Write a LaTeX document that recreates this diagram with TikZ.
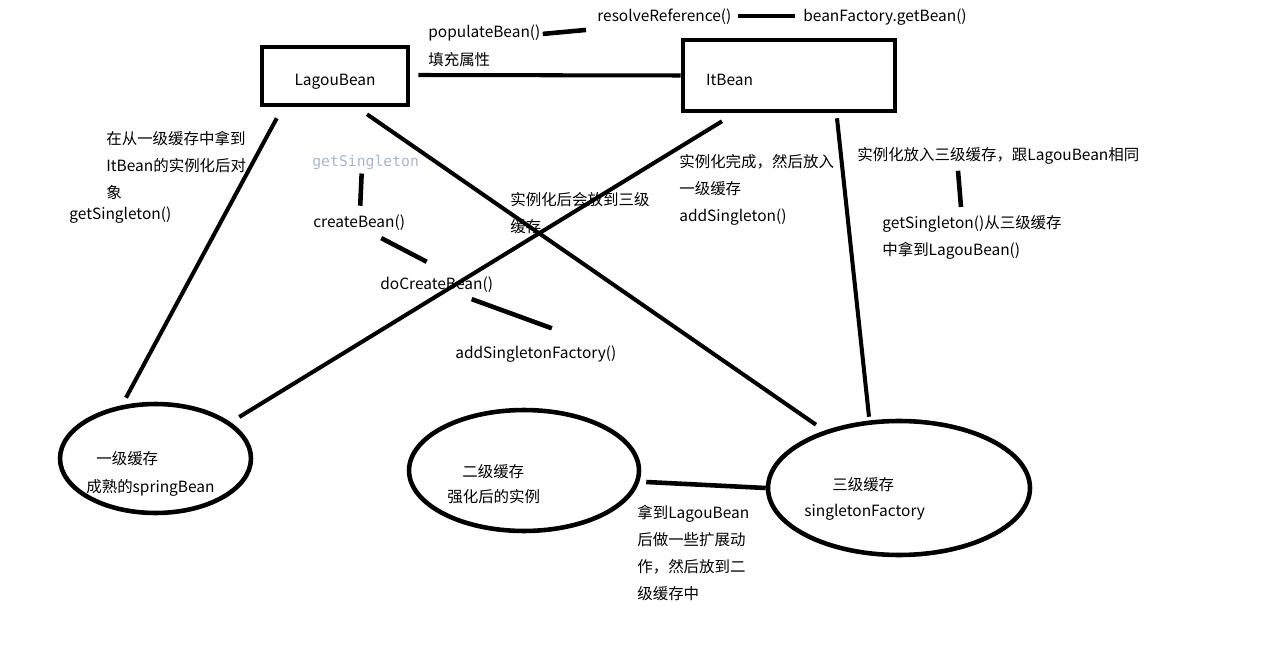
\documentclass[tikz,border=0pt]{standalone}
\usepackage{fontspec}
\setmainfont{Noto Sans CJK SC}
\newfontfamily\codefont{DejaVu Sans Mono}
\usepackage{xcolor}
\usepackage{tikz}
\usetikzlibrary{shapes.geometric, positioning, calc}
\definecolor{codegray}{RGB}{170,183,200}

\begin{document}
\begin{tikzpicture}[x=0.02cm, y=-0.02cm,
    every node/.style={font=\fontsize{8.8}{15.3}\selectfont, inner sep=0},
    beanbox/.style={draw, line width=2.6pt, rectangle, text height=13pt, text depth=1.7pt},
    cache/.style={draw, line width=2.6pt, ellipse},
    conn/.style={line width=2.3pt},
    short/.style={line width=2.6pt},
    txt/.style={anchor=west, yshift=-1.1pt},
    block/.style={anchor=north west, align=left}]
    \useasboundingbox[fill=white] (0,0) rectangle (1274,648);

    % Beans
    \node[beanbox, minimum width=2.92cm, minimum height=1.16cm] (lagou) at (335,76) {LagouBean};
    \node[beanbox, minimum height=1.42cm, text width=3.32cm, inner xsep=0.46cm, align=left] (itbean) at (789,75.5) {ItBean};

    % Caches
    \node[cache, minimum width=3.82cm, minimum height=2.18cm] (cacheone) at (155.5,458.5) {};
    \node[cache, minimum width=4.6cm, minimum height=2.42cm] (cachetwo) at (524,470.5) {};
    \node[cache, minimum width=5.24cm, minimum height=2.68cm] (cachethree) at (899,488) {};

    \node[txt] (onename) at (96,457) {一级缓存};
    \node[txt] (onedesc) at (86,486) {成熟的springBean};
    \node[txt] (twoname) at (462,470) {二级缓存};
    \node[txt] (twodesc) at (447,495) {强化后的实例};
    \node[txt] (threename) at (832,483) {三级缓存};
    \node[txt] (threedesc) at (804,510) {singletonFactory};

    % populate chain
    \node[txt] (populate) at (428,31) {populateBean()};
    \node[txt] (fill) at (428,58) {填充属性};
    \node[txt] (resolve) at (597,15) {resolveReference()};
    \node[txt] (getbean) at (803,15) {beanFactory.getBean()};

    % create chain
    \node[txt, font=\codefont\fontsize{8.4}{10}\selectfont, text=codegray] (gsgray) at (312,161) {getSingleton};
    \node[txt] (create) at (313,221) {createBean()};
    \node[txt] (docreate) at (380,283) {doCreateBean()};
    \node[txt] (addsf) at (455,352) {addSingletonFactory()};

    % notes
    \node[block] (fromone) at (106,131) {在从一级缓存中拿到\\ItBean的实例化后对\\象};
    \node[txt] (getsingle) at (69,213) {getSingleton()};
    \node[block] (tothree) at (510,192) {实例化后会放到三级\\缓存};
    \node[block] (toone) at (679,154) {实例化完成，然后放入\\一级缓存\\addSingleton()};
    \node[txt] (thirdput) at (857,154) {实例化放入三级缓存，跟LagouBean相同};
    \node[block] (getthird) at (882,215) {getSingleton()从三级缓存\\中拿到LagouBean()};
    \node[block] (expand) at (637,505) {拿到LagouBean\\后做一些扩展动\\作，然后放到二\\级缓存中};

    % Connectors
    \draw[conn] ($(lagou.east)+(8,-1)$) -- (itbean.west);
    \draw[conn] ($(lagou.south west)+(17,11)$) -- ($(cacheone.north)+(-29.5,-4)$);
    \draw[conn] ($(lagou.south)+(32,7)$) -- ($(cachethree.north)+(-83,6)$);
    \draw[conn] ($(itbean.south)+(-67,8)$) -- ($(cacheone.east)+(-14,-41.5)$);
    \draw[conn] ($(itbean.south)+(48,5)$) -- ($(cachethree.north)+(-30,-2)$);
    \draw[short] ($(cachetwo.east)+(5,11.5)$) -- (cachethree.west);

    \draw[short] ($(populate.east)+(2,1)$) -- ($(resolve.west)+(-11,13)$);
    \draw[short] ($(resolve.east)+(6,-1)$) -- ($(getbean.west)+(-8,-1)$);
    \draw[short] ($(gsgray.south)+(-4,3)$) -- ($(create.north)+(1,-9)$);
    \draw[short] ($(create.south)+(22,7)$) -- ($(docreate.north)+(-10,-15)$);
    \draw[short] ($(docreate.south)+(35,6)$) -- ($(addsf.north)+(16,-17)$);
    \draw[short] ($(thirdput.south west)+(101,6)$) -- ($(getthird.north west)+(79,-8)$);
\end{tikzpicture}
\end{document}
